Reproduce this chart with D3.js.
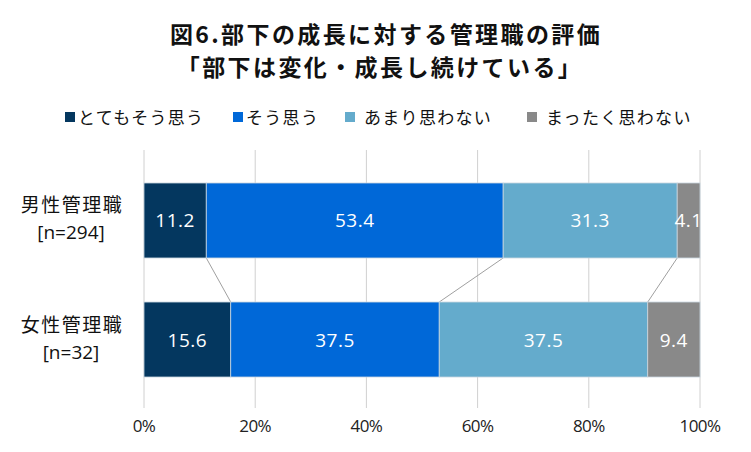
<!DOCTYPE html>
<html>
<head>
    <meta charset="utf-8">
    <title>図6</title>
    <script src="https://d3js.org/d3.v7.min.js"></script>
</head>
<body style="margin:0;background:#fff">
<svg id="chart"></svg>
<script>
const categories = ["男性管理職", "女性管理職"];
const catNotes = ["[n=294]", "[n=32]"];
const seriesNames = ["とてもそう思う", "そう思う", "あまり思わない", "まったく思わない"];
const seriesColors = ["#04375f", "#0068d8", "#64abcc", "#898989"];
const values = [
    [11.2, 53.4, 31.3, 4.1],
    [15.6, 37.5, 37.5, 9.4]
];
const ticks = [0, 20, 40, 60, 80, 100];

const width = 751, height = 452;
const font = "'Noto Sans CJK JP', 'Noto Sans', sans-serif";
const numFont = "'Open Sans', 'Noto Sans', sans-serif";

const svg = d3.select('#chart')
    .attr('width', width)
    .attr('height', height)
    .style('font-family', font);

// title
svg.append('text')
    .attr('x', 386).attr('y', 43)
    .attr('text-anchor', 'middle')
    .attr('font-size', '23px').attr('font-weight', 'bold')
    .attr('letter-spacing', '2.4px')
    .attr('fill', '#111')
    .text('図6.部下の成長に対する管理職の評価');
svg.append('text')
    .attr('x', 380).attr('y', 76)
    .attr('text-anchor', 'middle')
    .attr('font-size', '23px').attr('font-weight', 'bold')
    .attr('letter-spacing', '2.4px')
    .attr('fill', '#111')
    .text('「部下は変化・成長し続けている」');

// legend
const legendX = [65, 233, 345, 527];
seriesNames.forEach((name, i) => {
    svg.append('rect')
        .attr('x', legendX[i]).attr('y', 112)
        .attr('width', 10).attr('height', 10)
        .attr('fill', seriesColors[i]);
    svg.append('text')
        .attr('x', legendX[i] + (i >= 2 ? 19 : 13)).attr('y', 124)
        .attr('font-size', '17px')
        .attr('letter-spacing', '1.3px')
        .attr('fill', '#111')
        .text(name);
});

const x = d3.scaleLinear().domain([0, 100]).range([144, 700]);
const y = d3.scaleBand().domain(categories).range([163, 397]).paddingInner(0.37).paddingOuter(0.168);

// grid lines
svg.append('g')
    .selectAll('line')
    .data(ticks)
    .join('line')
    .attr('x1', d => x(d)).attr('x2', d => x(d))
    .attr('y1', 150).attr('y2', 408)
    .attr('stroke', '#d0d0d0').attr('stroke-width', 1);

// tick labels
svg.append('g')
    .selectAll('text')
    .data(ticks)
    .join('text')
    .attr('x', d => x(d)).attr('y', 432)
    .attr('text-anchor', 'middle')
    .attr('font-family', numFont)
    .attr('font-size', '17px')
    .attr('letter-spacing', '-0.6px')
    .attr('fill', '#222')
    .text(d => d + '%');

// stacked segments
const stacked = values.map(row => {
    let acc = 0;
    return row.map(v => { const s = acc; acc += v; return [s, acc, v]; });
});

// connector lines
for (let i = 0; i < seriesNames.length - 1; i++) {
    svg.append('line')
        .attr('x1', x(stacked[0][i][1])).attr('y1', y(categories[0]) + y.bandwidth())
        .attr('x2', x(stacked[1][i][1])).attr('y2', y(categories[1]))
        .attr('stroke', '#a0a0a0').attr('stroke-width', 1);
}

categories.forEach((cat, ci) => {
    const g = svg.append('g');
    g.selectAll('rect')
        .data(stacked[ci])
        .join('rect')
        .attr('x', d => x(d[0]))
        .attr('y', y(cat))
        .attr('width', d => x(d[1]) - x(d[0]))
        .attr('height', y.bandwidth())
        .attr('fill', (d, i) => seriesColors[i])
        .attr('stroke', '#c9d6e0').attr('stroke-width', 0.8);
    g.selectAll('text')
        .data(stacked[ci])
        .join('text')
        .attr('x', d => (x(d[0]) + x(d[1])) / 2)
        .attr('y', y(cat) + y.bandwidth() / 2 + 7)
        .attr('text-anchor', 'middle')
        .attr('font-family', numFont)
        .attr('font-size', '19px')
        .attr('letter-spacing', '0.5px')
        .attr('fill', '#fff')
        .text(d => d[2].toFixed(1));

    svg.append('text')
        .attr('x', 72).attr('y', y(cat) + y.bandwidth() / 2 - 8)
        .attr('text-anchor', 'middle')
        .attr('font-size', '19px').attr('fill', '#111')
        .attr('letter-spacing', '1.5px')
        .text(cat);
    svg.append('text')
        .attr('x', 71).attr('y', y(cat) + y.bandwidth() / 2 + 19)
        .attr('text-anchor', 'middle')
        .attr('font-family', numFont)
        .attr('font-size', '19px').attr('fill', '#111')
        .text(catNotes[ci]);
});
</script>
</body>
</html>
